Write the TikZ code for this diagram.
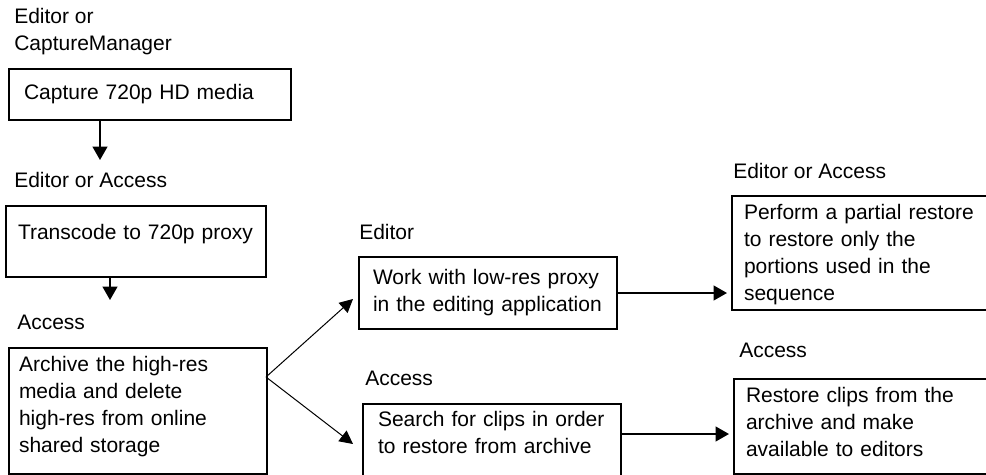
\documentclass[tikz,border=0pt]{standalone}
\usepackage{fontspec}
\setmainfont{Liberation Sans}
\usetikzlibrary{arrows.meta}

\tikzset{
  stage/.style={draw, line width=1.5pt, anchor=north west, align=left, inner ysep=0pt},
  role/.style={anchor=base west, inner sep=0pt, align=left},
  flow/.style={-{Triangle[length=10pt,width=11pt]}, line width=1.5pt},
  fork/.style={-{Triangle[length=10pt,width=10pt]}, line width=0.75pt}
}

\begin{document}
\begin{tikzpicture}[x=0.75pt, y=-0.75pt, font=\fontsize{15.75pt}{20.25pt}\selectfont]
\useasboundingbox (0,0) rectangle (986,475);
\clip (0,0) rectangle (986,475);
% who does each step
\node[role] (roleCapture) at (14,50) {Editor or\\CaptureManager};
\node[role] (roleTranscode) at (14,187) {Editor or Access};
\node[role] (roleArchive) at (17,329) {Access};
\node[role] (roleWork) at (359,239) {Editor};
\node[role] (roleSearch) at (365,385) {Access};
\node[role] (rolePerform) at (733,178) {Editor or Access};
\node[role] (roleRestore) at (739,357) {Access};
% steps
\node[stage, text width=189pt, inner xsep=11.25pt, text height=22.5pt, text depth=15.75pt] (capture) at (8,68) {Capture 720p HD media};
\node[stage, text width=177pt, inner xsep=9pt, text height=24.75pt, text depth=28.5pt] (transcode) at (5,205) {Transcode to 720p proxy};
\node[stage, text width=178.5pt, inner xsep=7.5pt, text height=17.25pt, text depth=77.25pt] (archive) at (8,347) {Archive the high-res\\media and delete\\high-res from online\\shared storage};
\node[stage, text width=172.5pt, inner xsep=10.5pt, text height=20.25pt, text depth=33.75pt] (work) at (358,256) {Work with low-res proxy\\in the editing application};
\node[stage, text width=171pt, inner xsep=11.25pt, text height=16.5pt, text depth=41.25pt] (search) at (362,403) {Search for clips in order\\to restore from archive};
\node[stage, text width=184.5pt, inner xsep=9pt, text height=17.25pt, text depth=68.25pt] (perform) at (731,195) {Perform a partial restore\\to restore only the\\portions used in the\\sequence};
\node[stage, text width=184.5pt, inner xsep=9pt, text height=17.25pt, text depth=54pt] (restore) at (733,378) {Restore clips from the\\archive and make\\available to editors};
% arrows
\coordinate (down1) at (100,160);
\coordinate (down2) at (110,300);
\coordinate (split) at (266,377);
\coordinate (toWork) at (353,299);
\coordinate (toSearch) at (353,444);
\coordinate (toRestore) at (729,434);
\draw[flow] (capture.south -| down1) -- (down1);
\draw[flow] (transcode.south -| down2) -- (down2);
\draw[fork] (split) -- (toWork);
\draw[fork] (split) -- (toSearch);
\draw[flow, shorten >=3pt] (work.east) -- (work.east -| perform.west);
\draw[flow] (search.east |- toRestore) -- (toRestore);
\end{tikzpicture}
\end{document}
